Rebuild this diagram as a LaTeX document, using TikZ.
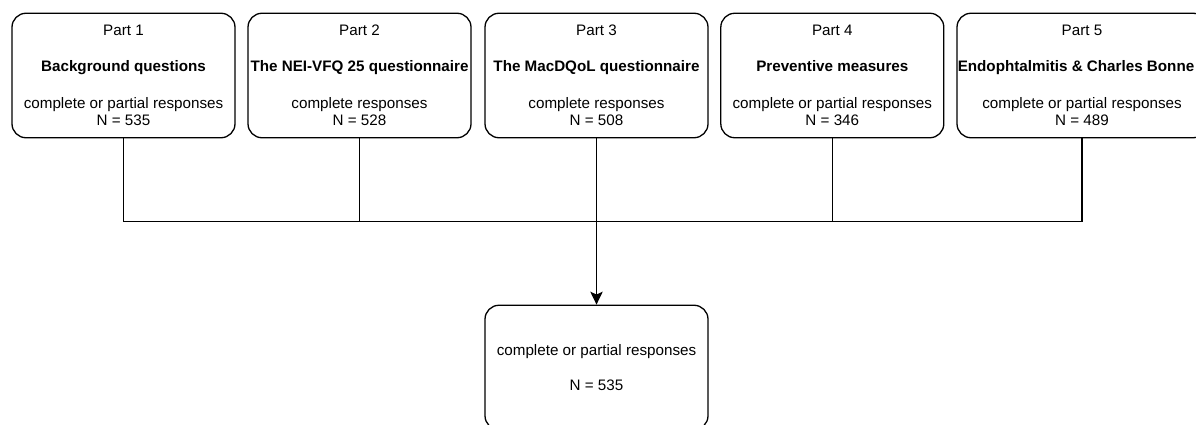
\documentclass[tikz,border=0pt]{standalone}
\usepackage{fontspec}
\setmainfont{Liberation Sans}
\usetikzlibrary{arrows.meta, positioning}

\begin{document}
\begin{tikzpicture}[x=1pt,y=-1pt,>={Stealth[length=13pt,width=12.5pt,inset=3pt]}]
    % styles
    \tikzset{part/.style={draw,rounded corners=14pt,line width=1.3pt,minimum width=223pt,minimum height=124.5pt,inner sep=0pt,align=center,font=\fontsize{15.2}{17}\selectfont}}
    \tikzset{link/.style={line width=1.3pt}}
    \useasboundingbox (0,0) rectangle (1196,425);
    \clip (0,0) rectangle (1196,425);

    % nodes
    \node[part] (P1) at (123.5,75.5) {Part 1\\[19pt] \textbf{Background questions}\\[20.3pt] complete or partial responses\\ N = 535};
    \node[part] (P2) at (359.5,75.5) {Part 2\\[19pt] \textbf{The NEI-VFQ 25 questionnaire}\\[20.3pt] complete responses\\ N = 528};
    \node[part] (P3) at (596.5,75.5) {Part 3\\[19pt] \textbf{The MacDQoL questionnaire}\\[20.3pt] complete responses\\ N = 508};
    \node[part] (P4) at (832.3,75.5) {Part 4\\[19pt] \textbf{Preventive measures}\\[20.3pt] complete or partial responses\\ N = 346};
    \node[part,minimum width=250pt] (P5) at (1082,75.5) {Part 5\\[19pt] \hspace*{-12pt}\textbf{Endophtalmitis \& Charles Bonne}\\[20.3pt] complete or partial responses\\ N = 489};
    \node[part] (All) at (596.5,367.5) {complete or partial responses\\[18.7pt] N = 535};

    % joining lines
    \coordinate (bus) at (596.5,221.5);
    \draw[link] (P1.south) |- (bus);
    \draw[link] (P2.south) |- (bus);
    \draw[link] (P4.south) |- (bus);
    \draw[link] (P5.south) |- (bus);
    \draw[link,->] (P3) -- (All);
\end{tikzpicture}
\end{document}
